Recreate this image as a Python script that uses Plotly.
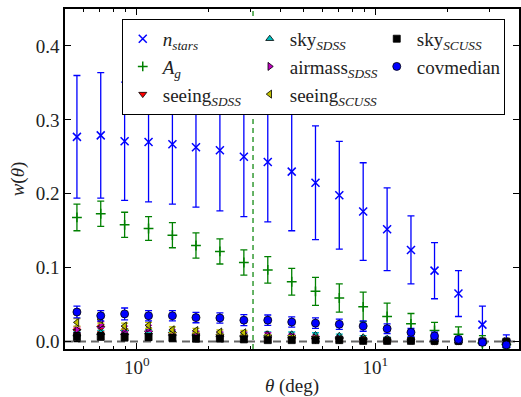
import math
import plotly.graph_objects as go

theta = [0.561, 0.706, 0.889, 1.12, 1.41, 1.77, 2.23, 2.81, 3.54, 4.46,
         5.61, 7.06, 8.89, 11.2, 14.1, 17.7, 22.3, 28.1, 35.4]

nstars = [0.277, 0.279, 0.271, 0.270, 0.267, 0.263, 0.259, 0.250, 0.243, 0.230,
          0.215, 0.198, 0.176, 0.152, 0.124, 0.096, 0.065, 0.023, -0.003]
nstars_err = [0.083, 0.085, 0.080, 0.081, 0.081, 0.081, 0.082, 0.081, 0.081, 0.080,
              0.077, 0.073, 0.066, 0.056, 0.046, 0.038, 0.031, 0.025, 0.012]

Ag = [0.168, 0.173, 0.158, 0.153, 0.144, 0.130, 0.122, 0.107, 0.097, 0.081,
      0.068, 0.059, 0.047, 0.034, 0.024, 0.015, 0.010, -0.002, -0.004]
Ag_err = [0.018, 0.017, 0.017, 0.016, 0.017, 0.017, 0.017, 0.017, 0.018, 0.018,
          0.019, 0.019, 0.020, 0.018, 0.014, 0.011, 0.010, 0.010, 0.006]

seeing_sdss = [0.014, 0.018, 0.013, 0.012, 0.010, 0.008, 0.007, 0.006, 0.004, 0.003,
               0.002, 0.002, 0.001, 0.001, 0.001, 0.000, 0.000, 0.000, 0.000]
seeing_sdss_err = [0.004, 0.004, 0.004, 0.004, 0.003, 0.003, 0.003, 0.003, 0.003, 0.003,
                   0.003, 0.002, 0.002, 0.002, 0.002, 0.002, 0.002, 0.002, 0.002]

sky_sdss = [0.010, 0.012, 0.012, 0.013, 0.011, 0.010, 0.009, 0.009, 0.010, 0.010,
            0.009, 0.008, 0.006, 0.004, 0.003, 0.002, 0.001, 0.000, 0.000]
sky_sdss_err = [0.003, 0.003, 0.003, 0.003, 0.003, 0.003, 0.003, 0.003, 0.003, 0.003,
                0.003, 0.002, 0.002, 0.002, 0.002, 0.002, 0.002, 0.002, 0.002]

airmass_sdss = [0.016, 0.023, 0.017, 0.018, 0.013, 0.011, 0.010, 0.010, 0.009, 0.007,
                0.005, 0.004, 0.003, 0.002, 0.002, 0.001, 0.001, 0.000, 0.000]
airmass_sdss_err = [0.004, 0.004, 0.004, 0.004, 0.003, 0.003, 0.003, 0.003, 0.003, 0.003,
                    0.003, 0.002, 0.002, 0.002, 0.002, 0.002, 0.002, 0.002, 0.002]

seeing_scuss = [0.026, 0.030, 0.021, 0.022, 0.016, 0.015, 0.013, 0.012, 0.006, 0.005,
                0.004, 0.003, 0.003, 0.002, 0.002, 0.001, 0.001, 0.000, 0.000]
seeing_scuss_err = [0.005, 0.005, 0.004, 0.004, 0.004, 0.003, 0.003, 0.003, 0.003, 0.003,
                    0.003, 0.002, 0.002, 0.002, 0.002, 0.002, 0.002, 0.002, 0.002]

sky_scuss = [0.006, 0.007, 0.006, 0.006, 0.005, 0.004, 0.004, 0.003, 0.002, 0.002,
             0.002, 0.002, 0.001, 0.001, 0.001, 0.001, 0.001, 0.000, 0.000]
sky_scuss_err = [0.006, 0.005, 0.005, 0.004, 0.004, 0.004, 0.003, 0.003, 0.003, 0.003,
                 0.003, 0.002, 0.002, 0.002, 0.002, 0.002, 0.002, 0.002, 0.002]

covmedian = [0.040, 0.035, 0.0375, 0.035, 0.035, 0.0325, 0.032, 0.029, 0.029, 0.0265,
             0.025, 0.0235, 0.021, 0.0175, 0.0125, 0.0077, 0.003, -0.001, -0.0045]
covmedian_err = [0.008, 0.007, 0.008, 0.007, 0.007, 0.007, 0.007, 0.0075, 0.007, 0.007,
                 0.007, 0.007, 0.007, 0.0065, 0.0055, 0.005, 0.004, 0.004, 0.003]

theta_sep = 3.07
x_range = [0.5, 40]
y_range = [-0.01, 0.45]
y_ticks = [0.0, 0.1, 0.2, 0.3, 0.4]
x_ticks = [1, 10]
x_ticktext = ["10<sup>0</sup>", "10<sup>1</sup>"]
x_minor = [0.5, 0.6, 0.7, 0.8, 0.9, 2, 3, 4, 5, 6, 7, 8, 9, 20, 30, 40]

FONT = "Liberation Serif, Times New Roman, serif"
TXT = "#222222"

series = [
    # name, y, err, color, symbol, size, legendrank
    ("<i>n<sub>stars</sub></i>", nstars, nstars_err, "#0000ff", "x-thin", 8, 1),
    ("<i>A<sub>g</sub></i>", Ag, Ag_err, "#008000", "cross-thin", 7, 4),
    ("seeing<sub><i>SDSS</i></sub>", seeing_sdss, seeing_sdss_err, "#ff0000", "triangle-down", 7, 7),
    ("sky<sub><i>SDSS</i></sub>", sky_sdss, sky_sdss_err, "#00bfbf", "triangle-up", 7, 2),
    ("airmass<sub><i>SDSS</i></sub>", airmass_sdss, airmass_sdss_err, "#bf00bf", "triangle-right", 7, 5),
    ("seeing<sub><i>SCUSS</i></sub>", seeing_scuss, seeing_scuss_err, "#bfbf00", "triangle-left", 7, 8),
    ("sky<sub><i>SCUSS</i></sub>", sky_scuss, sky_scuss_err, "#000000", "square", 7, 3),
    ("covmedian", covmedian, covmedian_err, "#0000ff", "circle", 8, 6),
]

fig = go.Figure()
for name, y, err, color, sym, size, rank in series:
    marker = dict(color=color, symbol=sym, size=size)
    if sym.endswith("-thin"):
        marker["line"] = dict(color=color, width=1.5)
    else:
        marker["line"] = dict(color="#000000", width=0.8)
    fig.add_trace(go.Scatter(
        x=theta, y=y, mode="markers", name=name, legendrank=rank,
        marker=marker,
        error_y=dict(type="data", array=err, visible=True, color=color,
                     thickness=1.3, width=3.5),
    ))

fig.add_shape(type="line", xref="paper", yref="y", x0=0, x1=1, y0=0, y1=0,
              line=dict(color="#666666", width=2, dash="8px,5px"), layer="below")
fig.add_shape(type="line", xref="x", yref="paper", x0=theta_sep, x1=theta_sep, y0=0, y1=1,
              line=dict(color="#008000", width=1.2, dash="5px,4px"), layer="below")

axis_common = dict(showline=True, linecolor="black", linewidth=1.5, mirror="ticks",
                   ticks="inside", tickcolor="black", showgrid=False, zeroline=False,
                   automargin=False,
                   tickfont=dict(family=FONT, size=19, color=TXT))

fig.update_xaxes(type="log", range=[math.log10(x_range[0]), math.log10(x_range[1])],
                 tickvals=x_ticks, ticktext=x_ticktext, ticklen=6, tickwidth=1,
                 minor=dict(ticks="inside", tickvals=x_minor, ticklen=3, tickcolor="black"),
                 title=dict(text="<i>θ</i> (deg)", font=dict(family=FONT, size=19, color=TXT),
                            standoff=6),
                 **axis_common)
fig.update_yaxes(range=y_range, tickvals=y_ticks, tickformat=".1f", ticklen=6, tickwidth=1,
                 title=dict(text="<i>w</i>(<i>θ</i>)", font=dict(family=FONT, size=19, color=TXT),
                            standoff=6),
                 **axis_common)

fig.update_layout(
    width=521, height=397,
    margin=dict(l=65, r=2, t=9, b=48, autoexpand=False),
    paper_bgcolor="white", plot_bgcolor="white",
    showlegend=True,
    legend=dict(orientation="h", x=0.125, y=0.971, xanchor="left", yanchor="top",
                bgcolor="white", bordercolor="black", borderwidth=1,
                font=dict(family=FONT, size=19, color=TXT),
                entrywidth=82, entrywidthmode="pixels", itemwidth=30,
                traceorder="normal"),
)

fig.write_html("out.html", config={"displayModeBar": False},
               post_script="document.body.style.margin='0';document.body.style.padding='0';")
